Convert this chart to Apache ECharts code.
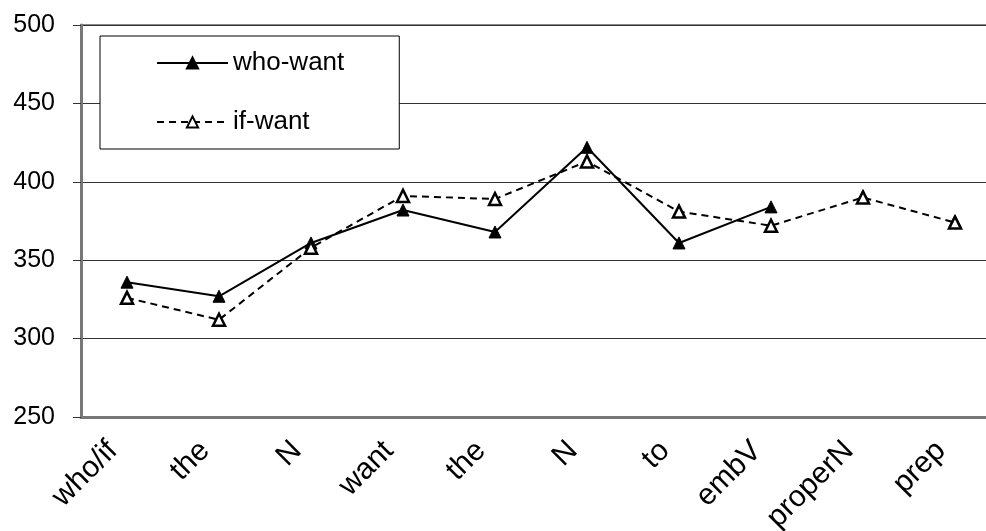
<!DOCTYPE html>
<html>
<head>
<meta charset="utf-8">
<script src="https://cdn.jsdelivr.net/npm/echarts@6/dist/echarts.min.js"></script>
<style>html,body{margin:0;padding:0;background:#fff;overflow:hidden}#c{width:986px;height:531px}</style>
</head>
<body>
<div id="c"></div>
<script>
const categories = ['who/if','the','N','want','the','N','to','embV','properN','prep'];
const whoWant = [336, 327, 361, 382, 368, 422, 361, 384, null, null];
const whoWantTail = [null, null, null, null, null, null, null, null, 391, 375];
const ifWant = [326, 312, 358, 391, 389, 413, 381, 372, 390, 374];
const yTicks = {min: 250, max: 500, step: 50};

const font = 'Liberation Sans, Arial, sans-serif';
const chart = echarts.init(document.getElementById('c'));
chart.setOption({
  animation: false,
  backgroundColor: '#fff',
  grid: {left: 81, top: 25, right: -15, bottom: 114, outerBoundsMode: 'none', containLabel: false,
         show: true, borderColor: '#888', borderWidth: 2, backgroundColor: 'transparent'},
  legend: {
    left: 100, top: 36, orient: 'vertical',
    padding: [14, 55, 14, 56], itemGap: 33,
    itemWidth: 71, itemHeight: 14,
    backgroundColor: '#fff', borderColor: '#000', borderWidth: 1,
    textStyle: {fontFamily: font, fontSize: 26, color: '#000', padding: [0,0,0,0]},
    data: ['who-want', 'if-want']
  },
  xAxis: {
    type: 'category', data: categories, boundaryGap: true,
    axisLine: {lineStyle: {color: '#777', width: 3}},
    axisTick: {inside: true, length: 6, lineStyle: {color: '#000', width: 1}},
    axisLabel: {rotate: 45, fontFamily: font, fontSize: 30, color: '#000', margin: 15, interval: 0, padding: [0, 20, 0, 0]},
    splitLine: {show: false}
  },
  yAxis: {
    type: 'value', min: yTicks.min, max: yTicks.max, interval: yTicks.step,
    axisLine: {show: true, lineStyle: {color: '#777', width: 3}},
    axisTick: {show: true, inside: false, length: 8, lineStyle: {color: '#333', width: 1}},
    axisLabel: {fontFamily: font, fontSize: 25, color: '#000', margin: 26},
    splitLine: {show: true, lineStyle: {color: '#333', width: 1}}
  },
  series: [
    {
      name: 'who-want', type: 'line', data: whoWant, connectNulls: false,
      symbol: 'triangle', symbolSize: 12,
      lineStyle: {color: '#000', width: 2, type: 'solid'},
      itemStyle: {color: '#000', borderColor: '#000', borderWidth: 1}
    },
    {
      name: 'who-want', type: 'scatter', data: whoWantTail,
      symbol: 'triangle', symbolSize: 12,
      itemStyle: {color: '#000', borderColor: '#000', borderWidth: 1}
    },
    {
      name: 'if-want', type: 'line', data: ifWant,
      symbol: 'triangle', symbolSize: 12,
      lineStyle: {color: '#000', width: 2, type: [7, 5]},
      itemStyle: {color: '#fff', borderColor: '#000', borderWidth: 2.5}
    }
  ]
});
</script>
</body>
</html>
